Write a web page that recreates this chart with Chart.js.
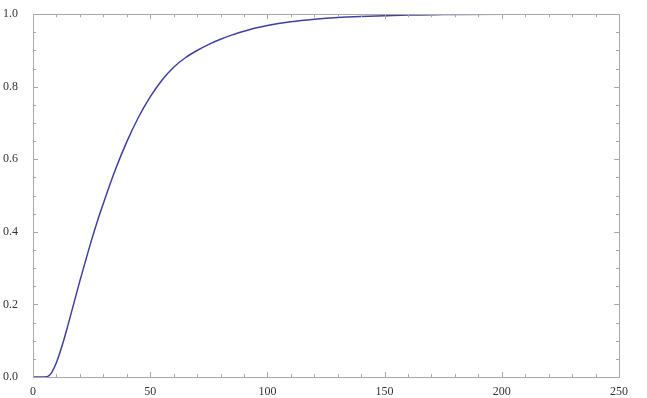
<!DOCTYPE html>
<html>
<head>
<meta charset="utf-8">
<script src="https://cdn.jsdelivr.net/npm/chart.js@4/dist/chart.umd.min.js"></script>
<style>
  body { margin: 0; background: #fff; }
  canvas { display: block; }
</style>
</head>
<body>
<canvas id="cdfChart" width="647" height="398"></canvas>
<script>
// values
let xs = [0, 5, 7.5, 10, 12.5, 15, 17.5, 20, 22.5, 25, 27.5, 30, 35, 40, 45, 50, 55, 60, 65, 70, 75, 80, 85, 90, 95, 100, 110, 120, 130, 140, 150, 160, 175, 200, 250];
let ys = [0, 0, 0.008, 0.04, 0.088, 0.145, 0.205, 0.265, 0.322, 0.378, 0.43, 0.478, 0.569, 0.648, 0.716, 0.772, 0.818, 0.854, 0.88, 0.9, 0.917, 0.931, 0.943, 0.953, 0.962, 0.969, 0.979, 0.986, 0.991, 0.994, 0.996, 0.998, 0.999, 1.0, 1.0];

let xTicks = [0, 50, 100, 150, 200, 250];
let yTicks = [0, 0.2, 0.4, 0.6, 0.8, 1.0];

let points = xs.map((x, i) => ({ x: x, y: ys[i] }));

// frame with inward ticks on all four sides
const frameTicks = {
    id: "frameTicks",
    afterDraw(chart) {
        let ctx = chart.ctx;
        let a = chart.chartArea;
        let xs_ = chart.scales.x;
        let ys_ = chart.scales.y;
        ctx.save();
        ctx.strokeStyle = "#a8a8a8";
        ctx.lineWidth = 1;
        ctx.strokeRect(Math.round(a.left) + 0.5, Math.round(a.top) + 0.5,
            Math.round(a.right - a.left), Math.round(a.bottom - a.top));
        ctx.beginPath();
        for (let v = 0; v <= 250; v += 10) {
            let px = Math.round(xs_.getPixelForValue(v)) + 0.5;
            let len = (v % 50 === 0) ? 5 : 3;
            ctx.moveTo(px, a.bottom);
            ctx.lineTo(px, a.bottom - len);
            ctx.moveTo(px, a.top);
            ctx.lineTo(px, a.top + len);
        }
        for (let k = 0; k <= 20; k++) {
            let v = k * 0.05;
            let py = Math.round(ys_.getPixelForValue(v)) + 0.5;
            let len = (k % 4 === 0) ? 5 : 3;
            ctx.moveTo(a.left, py);
            ctx.lineTo(a.left + len, py);
            ctx.moveTo(a.right, py);
            ctx.lineTo(a.right - len, py);
        }
        ctx.stroke();
        ctx.restore();
    }
};

let ctx = document.getElementById("cdfChart").getContext("2d");

let chart = new Chart(ctx, {
    type: "line",
    data: {
        datasets: [{
            data: points,
            borderColor: "#4040a0",
            borderWidth: 1.5,
            pointRadius: 0,
            fill: false,
            cubicInterpolationMode: "monotone"
        }]
    },
    options: {
        responsive: false,
        animation: false,
        layout: { padding: { top: 14, right: 28, left: 0, bottom: 0 } },
        plugins: { legend: { display: false }, tooltip: { enabled: false } },
        scales: {
            x: {
                type: "linear",
                min: 0,
                max: 250,
                afterBuildTicks: s => { s.ticks = xTicks.map(v => ({ value: v })); },
                afterFit: s => { s.height = 21; },
                grid: { display: false },
                border: { display: false },
                ticks: {
                    padding: 0,
                    color: "#333",
                    font: { family: "Liberation Serif", size: 12 },
                    maxRotation: 0,
                    callback: v => String(v)
                }
            },
            y: {
                min: 0,
                max: 1,
                afterBuildTicks: s => { s.ticks = yTicks.map(v => ({ value: v })); },
                afterFit: s => { s.width = 33; },
                grid: { display: false },
                border: { display: false },
                ticks: {
                    padding: 7,
                    color: "#333",
                    font: { family: "Liberation Serif", size: 12 },
                    callback: v => Number(v).toFixed(1)
                }
            }
        }
    },
    plugins: [frameTicks]
});
</script>
</body>
</html>
